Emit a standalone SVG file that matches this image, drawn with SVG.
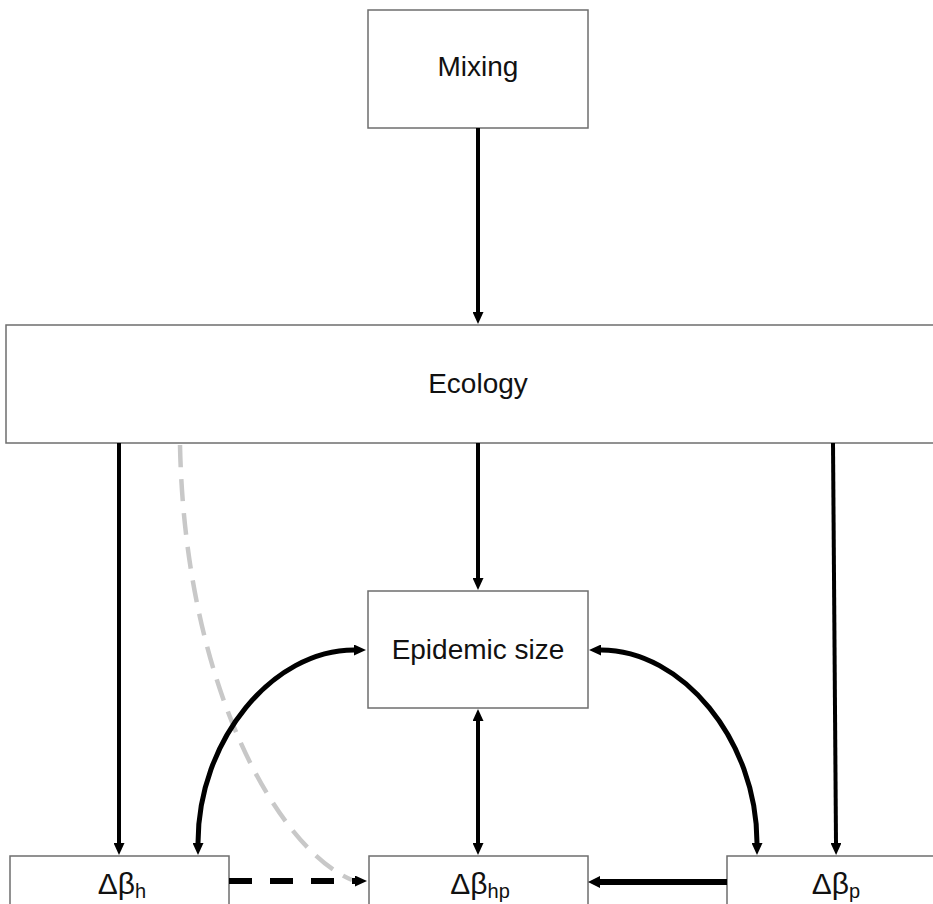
<svg xmlns="http://www.w3.org/2000/svg" width="933" height="904" viewBox="0 0 933 904">
  <style>
    .box { fill: #ffffff; stroke: #6e6e6e; stroke-width: 1.5; }
    .lbl { font-family: "Liberation Sans", Arial, sans-serif; font-size: 28px; fill: #111111; text-anchor: middle; }
    .sym { font-family: "Liberation Sans", Arial, sans-serif; font-size: 30px; fill: #111111; text-anchor: middle; }
    .sub { font-size: 20px; }
    .edge { fill: none; stroke: #000000; stroke-width: 4; }
    .curve { fill: none; stroke: #000000; stroke-width: 5; }
    .dash { fill: none; stroke: #000000; stroke-width: 6; stroke-dasharray: 23 18; }
    .ghost { fill: none; stroke: #c8c8c8; stroke-width: 4.5; stroke-dasharray: 22 12; }
  </style>
  <defs>
    <marker id="ah" viewBox="0 0 12 11" markerWidth="12" markerHeight="11" refX="0" refY="5.5" orient="auto-start-reverse" markerUnits="userSpaceOnUse">
      <path d="M0,0 L12,5.5 L0,11 z" fill="#000000"/>
    </marker>
    <marker id="ahBig" viewBox="0 0 12 12" markerWidth="12" markerHeight="12" refX="0" refY="6" orient="auto-start-reverse" markerUnits="userSpaceOnUse">
      <path d="M0,0 L12,6 L0,12 z" fill="#000000"/>
    </marker>
  </defs>

  <rect width="933" height="904" fill="#ffffff"/>

  <!-- nodes -->
  <g id="mixing">
    <rect class="box" x="368" y="10" width="220" height="118"/>
    <text class="lbl" x="478" y="76">Mixing</text>
  </g>
  <g id="ecology">
    <rect class="box" x="6" y="325" width="940" height="118"/>
    <text class="lbl" x="478" y="393">Ecology</text>
  </g>
  <g id="epidemic-size">
    <rect class="box" x="368" y="591" width="220" height="117"/>
    <text class="lbl" x="478" y="659">Epidemic size</text>
  </g>
  <g id="dbeta-h">
    <rect class="box" x="10" y="856" width="219" height="60"/>
    <text class="sym" x="122" y="894">Δβ<tspan class="sub" dy="4">h</tspan></text>
  </g>
  <g id="dbeta-hp">
    <rect class="box" x="369" y="856" width="219" height="60"/>
    <text class="sym" x="480" y="894">Δβ<tspan class="sub" dy="4">hp</tspan></text>
  </g>
  <g id="dbeta-p">
    <rect class="box" x="727" y="856" width="230" height="60"/>
    <text class="sym" x="836" y="894">Δβ<tspan class="sub" dy="4">p</tspan></text>
  </g>

  <!-- connectors -->
  <g id="connectors">
    <path class="ghost" d="M180,445 C185,690 280,850 352,880"/>
    <path class="edge" d="M478,128 L478,312" marker-end="url(#ah)"/>
    <path class="edge" d="M478,443 L478,578" marker-end="url(#ah)"/>
    <path class="edge" d="M478,721 L478,843" marker-start="url(#ah)" marker-end="url(#ah)"/>
    <path class="edge" d="M119,443 L119,843" marker-end="url(#ah)"/>
    <path class="edge" d="M833,443 L836,843" marker-end="url(#ah)"/>
    <path class="curve" d="M198,843 C198,740 273,650 354,650" marker-start="url(#ah)" marker-end="url(#ah)"/>
    <path class="curve" d="M601,650 C682,650 757,740 757,843" marker-start="url(#ah)" marker-end="url(#ah)"/>
    <path class="dash" d="M229,881 L355,881" marker-end="url(#ah)"/>
    <path class="edge" style="stroke-width:6" d="M727,882 L600,882" marker-end="url(#ahBig)"/>
  </g>
</svg>
